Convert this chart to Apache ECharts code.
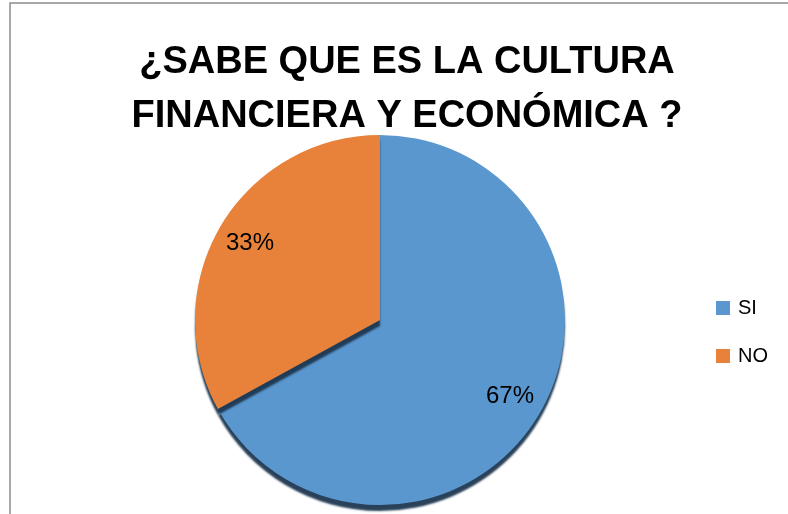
<!DOCTYPE html>
<html>
<head>
<meta charset="utf-8">
<script src="https://cdn.jsdelivr.net/npm/echarts@6/dist/echarts.min.js"></script>
<style>
    html, body { margin: 0; padding: 0; background: #fff; }
    #chart { width: 788px; height: 514px; }
</style>
</head>
<body>
<div id="chart"></div>
<script>
// datos de la encuesta
const categories = ['SI', 'NO']
const values = [67, 33]
const colors = ['#5A97CF', '#E8823A']
const titleText = '¿SABE QUE ES LA CULTURA\nFINANCIERA Y ECONÓMICA ?'

const font = '"Liberation Sans", Arial, sans-serif'

const pieData = categories.map((name, i) => ({ name, value: values[i] }))

const myChart = echarts.init(document.getElementById('chart'))

const option = {
    animation: false,
    color: colors,
    title: {
        text: titleText,
        left: 402,
        top: 31,
        textAlign: 'center',
        textStyle: {
            fontFamily: font,
            fontWeight: 'bold',
            fontSize: 38,
            lineHeight: 54,
            color: '#000'
        }
    },
    legend: {
        orient: 'vertical',
        left: 716,
        top: 298,
        padding: 0,
        icon: 'rect',
        itemWidth: 14,
        itemHeight: 14,
        itemGap: 28,
        textStyle: {
            fontFamily: font,
            fontSize: 20,
            color: '#000',
            padding: [0, 0, 0, 3]
        },
        data: categories
    },
    graphic: [
        // marco del gráfico
        {
            type: 'polyline',
            shape: { points: [[10, 514], [10, 3], [788, 3]] },
            style: { stroke: '#8c8c8c', lineWidth: 1.5, fill: null }
        }
    ],
    series: [
        {
            type: 'pie',
            center: [380, 320],
            radius: 185,
            startAngle: 90,
            label: { show: false },
            labelLine: { show: false },
            itemStyle: {
                shadowColor: 'rgba(30, 55, 80, 0.95)',
                shadowBlur: 2,
                shadowOffsetY: 6
            },
            emphasis: { disabled: true },
            data: pieData
        },
        {
            // solo para las etiquetas (a 0.8 del radio)
            type: 'pie',
            center: [380, 320],
            radius: [111, 185],
            startAngle: 90,
            silent: true,
            itemStyle: { color: 'transparent' },
            label: {
                show: true,
                position: 'inside',
                formatter: '{d}%',
                fontFamily: font,
                fontSize: 24,
                color: '#000'
            },
            labelLine: { show: false },
            emphasis: { disabled: true },
            data: pieData
        }
    ]
}

myChart.setOption(option)
</script>
</body>
</html>
